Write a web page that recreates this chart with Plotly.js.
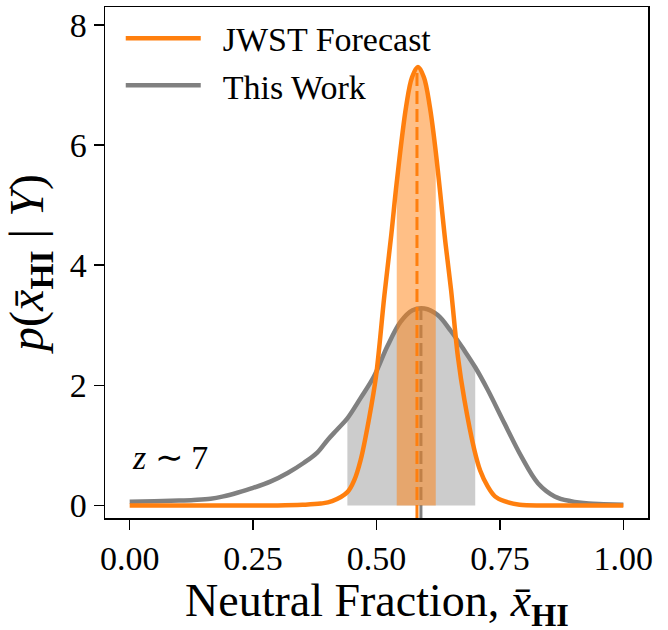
<!DOCTYPE html>
<html>
<head>
<meta charset="utf-8">
<script src="https://cdn.plot.ly/plotly-3.0.1.min.js"></script>
<style>
  html, body { margin: 0; padding: 0; background: #fff; }
  #chart { width: 668px; height: 630px; }
</style>
</head>
<body>
<div id="chart"></div>
<script>
// posterior of the neutral fraction
const thisWorkX = [0.000, 0.050, 0.100, 0.130, 0.164, 0.190, 0.218, 0.250, 0.286, 0.320, 0.353, 0.380,
                   0.401, 0.420, 0.441, 0.468, 0.495, 0.522, 0.549, 0.573, 0.597, 0.624, 0.651, 0.678,
                   0.700, 0.725, 0.759, 0.793, 0.827, 0.861, 0.894, 0.930, 0.960, 1.000]
const thisWorkY = [0.06, 0.07, 0.08, 0.09, 0.11, 0.15, 0.21, 0.29, 0.40, 0.54, 0.71, 0.88,
                   1.09, 1.26, 1.45, 1.79, 2.15, 2.65, 3.06, 3.25, 3.28, 3.17, 2.90, 2.58,
                   2.30, 1.93, 1.37, 0.82, 0.37, 0.15, 0.07, 0.03, 0.02, 0.01]

const jwstX = [0.000, 0.100, 0.200, 0.300, 0.350, 0.387, 0.410, 0.441, 0.455, 0.468, 0.485, 0.499,
               0.516, 0.530, 0.541, 0.560, 0.572, 0.584, 0.596, 0.608, 0.620, 0.640, 0.651, 0.665,
               0.678, 0.698, 0.710, 0.725, 0.740, 0.759, 0.790, 0.850, 0.900, 1.000]
const jwstY = [0.00, 0.00, 0.00, 0.00, 0.01, 0.03, 0.07, 0.22, 0.42, 0.76, 1.45, 2.15,
               3.50, 4.51, 5.38, 6.64, 7.13, 7.30, 7.13, 6.64, 5.89, 4.35, 3.59, 2.47,
               1.76, 0.93, 0.58, 0.32, 0.15, 0.07, 0.01, 0.00, 0.00, 0.00]

// 68% intervals and medians
const thisWorkBand = [0.441, 0.700]
const jwstBand = [0.541, 0.620]
const thisWorkMedian = 0.590
const jwstMedian = 0.582

const xTicks = [0, 0.25, 0.5, 0.75, 1.0]
const yTicks = [0, 2, 4, 6, 8]
const yMin = -0.21

const ORANGE = "#ff7f0e"
const GRAY = "#808080"
const FONT = "Liberation Serif, Times New Roman, serif"

function inBand(xs, ys, band) {
    const bx = [], by = []
    xs.forEach((x, i) => {
        if (x >= band[0] - 1e-9 && x <= band[1] + 1e-9) {
            bx.push(x)
            by.push(ys[i])
        }
    })
    return {x: bx, y: by}
}

const grayFill = inBand(thisWorkX, thisWorkY, thisWorkBand)
const orangeFill = inBand(jwstX, jwstY, jwstBand)

const traces = [
    {
        x: grayFill.x, y: grayFill.y, type: "scatter", mode: "lines",
        line: {width: 0, shape: "spline", smoothing: 1},
        fill: "tozeroy", fillcolor: "rgba(128,128,128,0.4)",
        showlegend: false, hoverinfo: "skip",
    },
    {
        x: thisWorkX, y: thisWorkY, type: "scatter", mode: "lines",
        name: "\u2002This Work", legendrank: 2,
        line: {color: GRAY, width: 4.5, shape: "spline", smoothing: 1},
    },
    {
        x: [thisWorkMedian, thisWorkMedian], y: [yMin, Math.max(...thisWorkY)],
        type: "scatter", mode: "lines",
        line: {color: GRAY, width: 3, dash: "13px,5px"},
        showlegend: false, hoverinfo: "skip",
    },
    {
        x: orangeFill.x, y: orangeFill.y, type: "scatter", mode: "lines",
        line: {width: 0, shape: "spline", smoothing: 1},
        fill: "tozeroy", fillcolor: "rgba(255,127,14,0.5)",
        showlegend: false, hoverinfo: "skip",
    },
    {
        x: jwstX, y: jwstY, type: "scatter", mode: "lines",
        name: "\u2002JWST Forecast", legendrank: 1,
        line: {color: ORANGE, width: 4.5, shape: "spline", smoothing: 1},
    },
    {
        x: [jwstMedian, jwstMedian], y: [yMin, Math.max(...jwstY)],
        type: "scatter", mode: "lines",
        line: {color: ORANGE, width: 3, dash: "13px,5px"},
        showlegend: false, hoverinfo: "skip",
    },
]

const axisCommon = {
    showgrid: false,
    zeroline: false,
    showline: true,
    mirror: true,
    linecolor: "#000",
    linewidth: 1.5,
    ticks: "outside",
    ticklen: 10,
    tickwidth: 1.5,
    tickcolor: "#000",
    tickfont: {family: FONT, size: 34, color: "#000"},
    automargin: false,
}

Plotly.newPlot(
    document.getElementById("chart"),
    traces,
    {
        width: 668,
        height: 630,
        margin: {l: 105, r: 20, t: 7, b: 112},
        paper_bgcolor: "#fff",
        plot_bgcolor: "#fff",
        font: {family: FONT, color: "#000"},
        showlegend: true,
        legend: {
            x: 0.029,
            y: 0.995,
            xanchor: "left",
            yanchor: "top",
            bgcolor: "rgba(0,0,0,0)",
            itemwidth: 75,
            font: {family: FONT, size: 34, color: "#000"},
        },
        xaxis: Object.assign({}, axisCommon, {
            range: [-0.05, 1.05],
            tickvals: xTicks,
            ticktext: xTicks.map(v => v.toFixed(2)),
        }),
        yaxis: Object.assign({}, axisCommon, {
            range: [yMin, 8.3],
            tickvals: yTicks,
            ticktext: yTicks.map(String),
            title: {
                text: "<i>p</i>(<i>x\u0304</i><sub><b>HI</b></sub> | <i>Y</i>)",
                font: {family: FONT, size: 48, color: "#000"},
            },
        }),
        annotations: [{
            // x-axis title, placed a little lower than plotly's default
            text: "Neutral Fraction, <i>x\u0304</i><sub><b>HI</b></sub>",
            x: 0.5,
            y: 0,
            xref: "paper",
            yref: "paper",
            xanchor: "center",
            yanchor: "top",
            yshift: -55,
            showarrow: false,
            font: {family: FONT, size: 46, color: "#000"},
        }, {
            text: "<i>z</i> \u223c 7",
            x: 0.0,
            y: 0.8,
            xref: "x",
            yref: "y",
            xanchor: "left",
            yanchor: "middle",
            showarrow: false,
            font: {family: FONT, size: 34, color: "#000"},
        }],
    },
    {staticPlot: true}
)
</script>
</body>
</html>
